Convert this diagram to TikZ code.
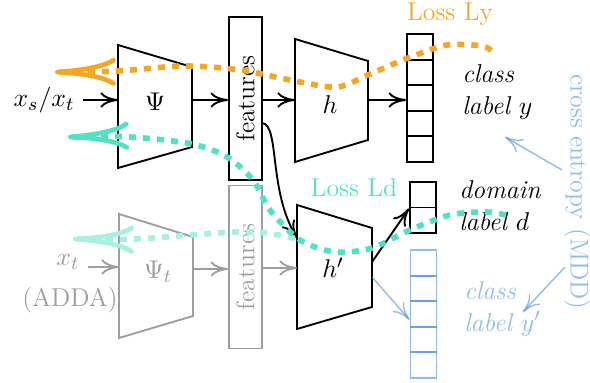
\documentclass[tikz,border=0pt]{standalone}
\usepackage{graphicx}
\usetikzlibrary{positioning, arrows.meta, calc}
\definecolor{lossorange}{HTML}{F5A623}
\definecolor{lossteal}{HTML}{50E3C2}
\definecolor{mddblue}{HTML}{4A90E2}

\begin{document}
\begin{tikzpicture}[x=0.015cm, y=-0.015cm,
    every node/.style={font=\fontsize{11}{13.5}\selectfont},
    arr/.style={-{Computer Modern Rightarrow[length=7.5pt,width=6.5pt]}, thick},
    net/.style={draw, thick},
    featbox/.style={draw, thick, minimum width=0.495cm, minimum height=2.445cm, inner sep=0pt},
    cell/.style={draw, thick, minimum width=0.39cm, minimum height=0.384cm, inner sep=0pt},
    lbl/.style={anchor=west, align=left, font=\fontsize{11}{13.5}\selectfont\itshape},
    loss/.style={line width=2.4pt, dash pattern=on 3pt off 3pt, {Computer Modern Rightarrow[length=26pt,width=12pt,line width=2pt]}-},
    adda/.style={draw=black!38, text=black!38},
    mddarr/.style={arr, semithick, draw=mddblue, draw opacity=0.6}]
    \useasboundingbox (0,0) rectangle (590,383);

    % Encoder Psi
    \draw[net] (118,45) -- (192,67) -- (192,147) -- (118,168) -- cycle;
    \node (psi) at (155,102) {$\Psi$};
    \coordinate (psiL) at (118,100); \coordinate (psiR) at (192,100);
    \node (xin) at (44,100) {$x_s/x_t$};
    \draw[arr] (xin) -- (psiL);

    % Features
    \node[featbox] (feat) at (245.5,98.5) {\rotatebox{90}{features}};
    \draw[arr] (psiR) -- (psiR -| feat.west);

    % Classifier h
    \draw[net] (295,39) -- (368,61) -- (368,140) -- (295,162) -- cycle;
    \node (h) at (330,105) {$h$};
    \coordinate (hL) at (295,100); \coordinate (hR) at (368,100);
    \draw[arr] (hL -| feat.east) -- (hL);
    \foreach \i in {1,...,5} {
        \node[cell] (y\i) at (420, {34+25.6*(\i-0.5)}) {};
    }
    \draw[arr] (hR) -- (hR -| y1.west);
    \node[text=lossorange] (lossy) at (450,14) {Loss Ly};
    \node[lbl] (ylbl) at (454,92) {class\\label $y$};

    % Adversarial classifier h'
    \draw[net] (297,205) -- (372,228) -- (372,307) -- (297,329) -- cycle;
    \node (hp) at (333,268) {$h'$};
    \coordinate (hpL) at (297,268); \coordinate (hpT) at (297,238);
    \coordinate (hpR1) at (372,262); \coordinate (hpR2) at (372,277);
    \coordinate (featout) at (262,123);
    \draw[arr] (featout) .. controls (280,125) and (268,190) .. (hpT);
    \foreach \i in {1,2} {
        \node[cell] (d\i) at (423, {182+25.5*(\i-0.5)}) {};
    }
    \draw[arr] (hpR1) -- (d1.south west);
    \node[text=lossteal] (lossd) at (354,188) {Loss Ld};
    \node[lbl] (dlbl) at (451,206) {domain\\label $d$};

    % MDD output
    \foreach \i in {1,...,5} {
        \node[cell, draw=mddblue, draw opacity=0.6] (b\i) at (423.5, {250+25.6*(\i-0.5)}) {};
    }
    \draw[mddarr] (hpR2) -- ([yshift=-2.5pt]b3.west);
    \node[lbl, text=mddblue!60] (yplbl) at (456,309) {class\\label $y'$};
    \node[rotate=-90, text=mddblue!60] (mdd) at (577,192) {cross entropy (MDD)};
    \coordinate (mddA) at (562,170); \coordinate (mddAend) at (505,137);
    \coordinate (mddB) at (565,267); \coordinate (mddBend) at (523,312);
    \draw[mddarr] (mddA) -- (mddAend);
    \draw[mddarr] (mddB) -- (mddBend);

    % ADDA branch
    \draw[net, adda] (119,214) -- (193,237) -- (193,316) -- (119,338) -- cycle;
    \node[adda, draw=none] (psit) at (158,272) {$\Psi_t$};
    \coordinate (psitL) at (119,267); \coordinate (psitR) at (193,269);
    \node[adda, draw=none] (xt) at (68,262) {$x_t$};
    \node[adda, draw=none] (adda) at (70,300) {(ADDA)};
    \draw[arr, black!38] (xt.east |- psitL) -- (psitL);
    \node[featbox, adda] (featt) at (245.5,267) {\rotatebox{90}{features}};
    \draw[arr, black!38] (psitR) -- (psitR -| featt.west);
    \draw[arr, black!38] (hpL -| featt.east) -- (hpL);

    % Losses
    \draw[loss, lossorange] plot[smooth] coordinates {(55,72) (118,71) (183,66) (240,70) (300,82) (338,87) (370,74) (408,58) (447,45) (482,46) (493,52)};
    \draw[loss, lossteal!50] plot[smooth] coordinates {(73,239) (135,239) (190,235) (235,232) (267,233) (297,239)};
    \draw[loss, lossteal] plot[smooth] coordinates {(68,137) (130,137) (192,144) (227,157) (253,180) (270,210) (300,240) (335,252) (372,248) (410,230) (450,215) (487,212) (510,216)};
\end{tikzpicture}
\end{document}
